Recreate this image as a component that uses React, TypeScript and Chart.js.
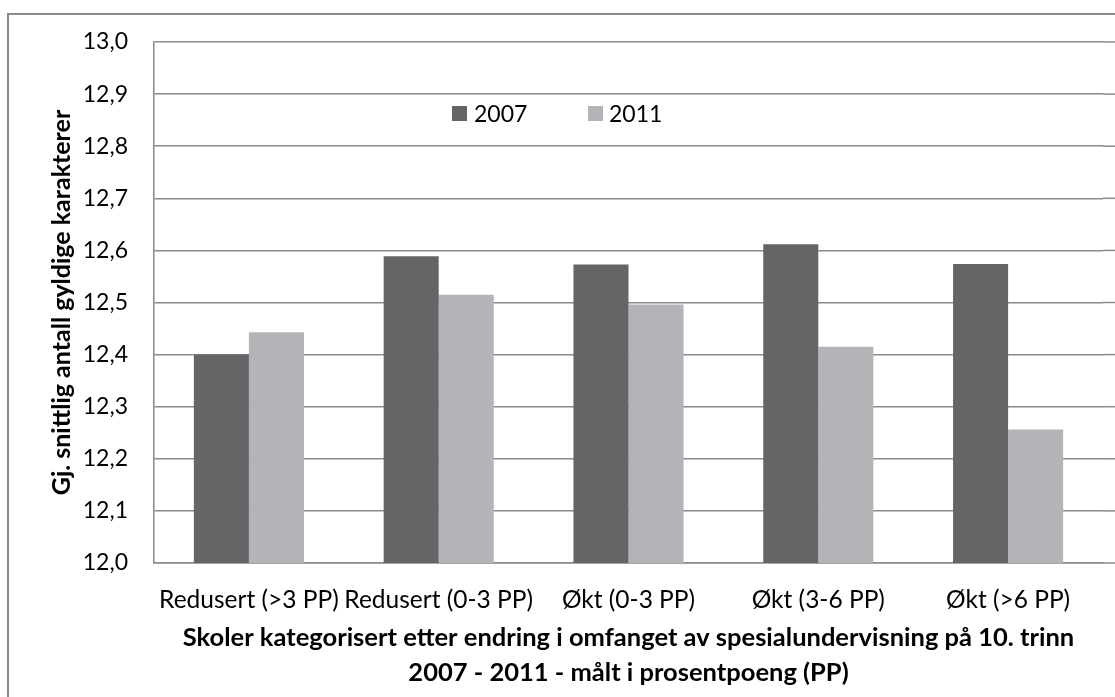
import React, { useEffect, useRef } from "react";
import { Chart, registerables } from "chart.js";

Chart.register(...registerables);

const categories = ["Redusert (>3 PP)", "Redusert (0-3 PP)", "Økt (0-3 PP)", "Økt (3-6 PP)", "Økt (>6 PP)"];
const seriesLabels = ["2007", "2011"];
const values2007 = [12.4, 12.589, 12.573, 12.612, 12.574];
const values2011 = [12.443, 12.515, 12.496, 12.415, 12.256];
const seriesColors = ["#656567", "#b3b4b7"];
const yMin = 12.0;
const yMax = 13.0;
const yStep = 0.1;
const yTitle = "Gj. snittlig antall gyldige karakterer";
const xTitle = [
  "Skoler kategorisert etter endring i omfanget av spesialundervisning på 10. trinn",
  "2007 - 2011 - målt i prosentpoeng (PP)",
];

const GRID = "#8a8a8a";
const FONT = "Lato";

const extendGrid = {
  id: "extendGrid",
  afterDraw(chart: any) {
    const { ctx, chartArea } = chart;
    const ys = chart.scales.y;
    ctx.save();
    ctx.strokeStyle = GRID;
    ctx.lineWidth = 1.5;
    ys.ticks.forEach((t: any) => {
      const y = ys.getPixelForValue(t.value);
      ctx.beginPath();
      ctx.moveTo(chartArea.right, y);
      ctx.lineTo(chart.width, y);
      ctx.stroke();
    });
    ctx.restore();
  },
};

export default function App() {
  const ref = useRef<HTMLCanvasElement | null>(null);

  useEffect(() => {
    if (!ref.current) return;
    const chart = new Chart(ref.current, {
      type: "bar",
      data: {
        labels: categories,
        datasets: [
          {
            label: seriesLabels[0],
            data: values2007,
            backgroundColor: seriesColors[0],
            borderWidth: 0,
            barPercentage: 1,
            categoryPercentage: 0.58,
          },
          {
            label: seriesLabels[1],
            data: values2011,
            backgroundColor: seriesColors[1],
            borderWidth: 0,
            barPercentage: 1,
            categoryPercentage: 0.58,
          },
        ],
      },
      options: {
        responsive: false,
        devicePixelRatio: 1,
        animation: false,
        layout: { padding: { top: 42, right: 12, left: 0, bottom: 0 } },
        plugins: {
          legend: { display: false },
          tooltip: { enabled: false },
        },
        scales: {
          x: {
            grid: { display: false },
            border: { display: true, color: GRID, width: 1.5 },
            ticks: {
              color: "#000",
              padding: 14,
              maxRotation: 0,
              autoSkip: false,
              font: { family: FONT, size: 24.5 },
            },
            title: {
              display: true,
              text: xTitle,
              color: "#000",
              font: { family: FONT, size: 25.5, weight: "bold", lineHeight: 35 / 25.5 },
              padding: { top: 0, bottom: 7 },
            },
            afterFit: (s: any) => {
              s.height = 134;
            },
          },
          y: {
            min: yMin,
            max: yMax,
            grid: { color: GRID, lineWidth: 1.5, drawTicks: false },
            border: { display: true, color: GRID, width: 1.5 },
            ticks: {
              stepSize: yStep,
              color: "#000",
              padding: 26,
              font: { family: FONT, size: 23 },
              callback: (v: any) => Number(v).toFixed(1).replace(".", ","),
            },
            title: {
              display: true,
              text: yTitle,
              color: "#000",
              font: { family: FONT, size: 25, weight: "bold", lineHeight: 1.2 },
              padding: { top: 47, bottom: 0 },
            },
            afterFit: (s: any) => {
              s.width = 154;
            },
          },
        },
      },
      plugins: [extendGrid],
    });
    return () => chart.destroy();
  }, []);

  const legendText: React.CSSProperties = {
    position: "absolute",
    fontFamily: FONT,
    fontSize: 23,
    lineHeight: "26px",
    color: "#000",
    top: 100,
  };

  return (
    <div style={{ position: "fixed", left: 0, top: 0, width: 1115, height: 697, overflow: "hidden", background: "#fff" }}>
      <canvas ref={ref} width={1115} height={697} style={{ position: "absolute", left: 0, top: 0 }} />
      <div
        style={{
          position: "absolute",
          left: 7,
          top: 13,
          width: 1300,
          height: 900,
          borderLeft: "2px solid #8a8a8a",
          borderTop: "2px solid #8a8a8a",
          pointerEvents: "none",
        }}
      />
      <div style={{ position: "absolute", left: 452, top: 106, width: 15, height: 15, background: seriesColors[0] }} />
      <div style={{ ...legendText, left: 474 }}>{seriesLabels[0]}</div>
      <div style={{ position: "absolute", left: 588, top: 106, width: 15, height: 15, background: seriesColors[1] }} />
      <div style={{ ...legendText, left: 609 }}>{seriesLabels[1]}</div>
    </div>
  );
}
